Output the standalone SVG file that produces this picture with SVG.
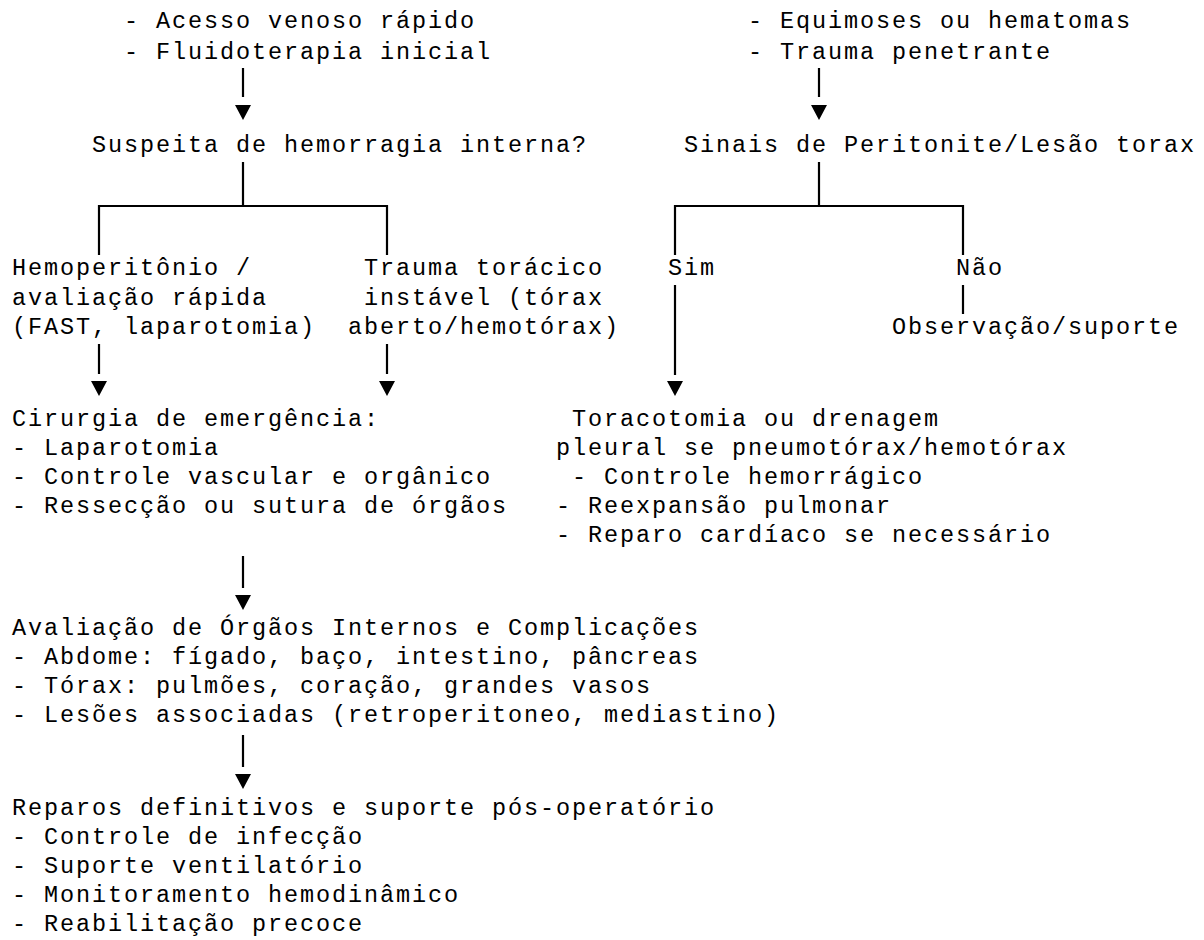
<svg xmlns="http://www.w3.org/2000/svg" width="1204" height="940" viewBox="0 0 1204 940">
<style>
text{font-family:"Liberation Mono","Courier New",monospace;font-size:23.5px;letter-spacing:1.9px;fill:#000}
.ln{stroke:#000;stroke-width:2.2;fill:none}
.ar{fill:#000}
</style>
<rect width="1204" height="940" fill="#fff"/>
<g id="n_inicio_esq">
<text x="124" y="28">- Acesso venoso rápido</text>
<text x="124" y="59">- Fluidoterapia inicial</text>
</g>
<g id="n_inicio_dir">
<text x="748" y="28">- Equimoses ou hematomas</text>
<text x="748" y="59">- Trauma penetrante</text>
</g>
<g id="n_suspeita"><text x="92" y="152">Suspeita de hemorragia interna?</text></g>
<g id="n_sinais"><text x="684" y="152">Sinais de Peritonite/Lesão torax</text></g>
<g id="n_hemo">
<text x="12" y="275">Hemoperitônio /</text>
<text x="12" y="304.5">avaliação rápida</text>
<text x="12" y="334">(FAST, laparotomia)</text>
</g>
<g id="n_trauma">
<text x="364" y="275">Trauma torácico</text>
<text x="364" y="304.5">instável (tórax</text>
<text x="348" y="334">aberto/hemotórax)</text>
</g>
<g id="n_sim"><text x="668" y="275">Sim</text></g>
<g id="n_nao"><text x="956" y="275">Não</text></g>
<g id="n_obs"><text x="892" y="334">Observação/suporte</text></g>
<g id="n_cirurgia">
<text x="12" y="426">Cirurgia de emergência:</text>
<text x="12" y="455">- Laparotomia</text>
<text x="12" y="484">- Controle vascular e orgânico</text>
<text x="12" y="513">- Ressecção ou sutura de órgãos</text>
</g>
<g id="n_toracotomia">
<text x="572" y="426">Toracotomia ou drenagem</text>
<text x="556" y="455">pleural se pneumotórax/hemotórax</text>
<text x="572" y="484">- Controle hemorrágico</text>
<text x="556" y="513">- Reexpansão pulmonar</text>
<text x="556" y="542">- Reparo cardíaco se necessário</text>
</g>
<g id="n_avaliacao">
<text x="12" y="635">Avaliação de Órgãos Internos e Complicações</text>
<text x="12" y="664">- Abdome: fígado, baço, intestino, pâncreas</text>
<text x="12" y="693">- Tórax: pulmões, coração, grandes vasos</text>
<text x="12" y="722">- Lesões associadas (retroperitoneo, mediastino)</text>
</g>
<g id="n_reparos">
<text x="12" y="815">Reparos definitivos e suporte pós-operatório</text>
<text x="12" y="844">- Controle de infecção</text>
<text x="12" y="873">- Suporte ventilatório</text>
<text x="12" y="902">- Monitoramento hemodinâmico</text>
<text x="12" y="931">- Reabilitação precoce</text>
</g>
<g id="connectors">
<line class="ln" x1="243" y1="68" x2="243" y2="97"/>
<polygon class="ar" points="235,105 251,105 243,120"/>
<line class="ln" x1="819" y1="68" x2="819" y2="97"/>
<polygon class="ar" points="811,105 827,105 819,120"/>
<path class="ln" d="M243,162 V206 M99,255 V206 H387 V255"/>
<path class="ln" d="M819,162 V206 M675,255 V206 H963 V255"/>
<line class="ln" x1="675" y1="285" x2="675" y2="375"/>
<polygon class="ar" points="667,381 683,381 675,396"/>
<line class="ln" x1="963" y1="285" x2="963" y2="314"/>
<line class="ln" x1="99" y1="344" x2="99" y2="374"/>
<polygon class="ar" points="91,381 107,381 99,396"/>
<line class="ln" x1="387" y1="344" x2="387" y2="374"/>
<polygon class="ar" points="379,381 395,381 387,396"/>
<line class="ln" x1="243" y1="556" x2="243" y2="588"/>
<polygon class="ar" points="235,595 251,595 243,610"/>
<line class="ln" x1="243" y1="735" x2="243" y2="767"/>
<polygon class="ar" points="235,774 251,774 243,789"/>
</g>
</svg>
